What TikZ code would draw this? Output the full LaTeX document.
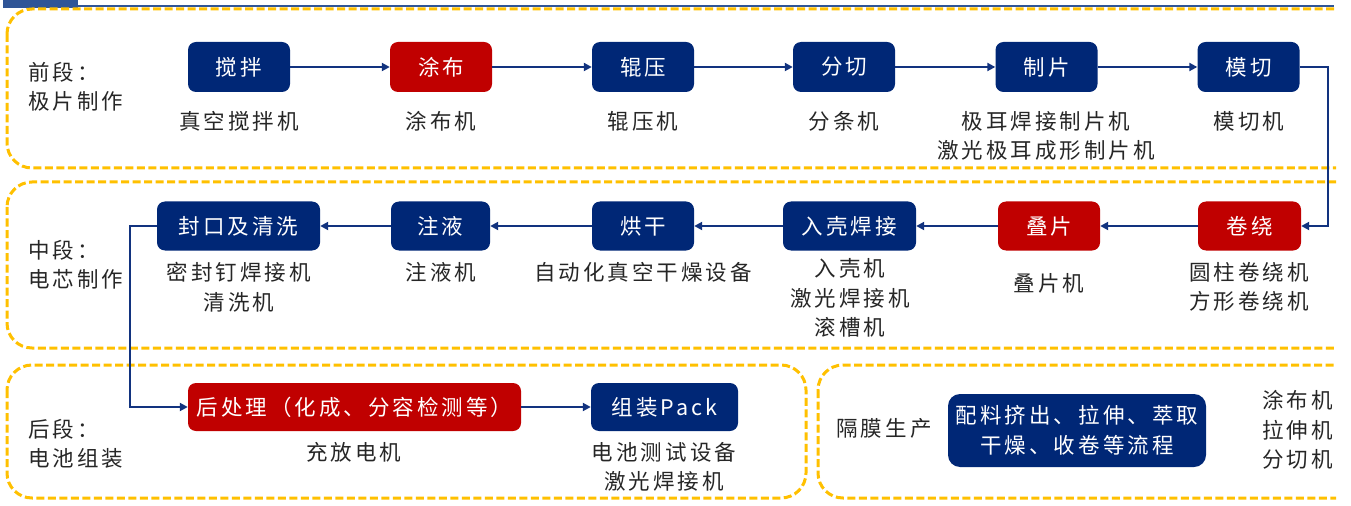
\documentclass[tikz,border=0pt]{standalone}
\usepackage{fontspec}
\setmainfont{Noto Sans CJK SC}[LetterSpace=14]
\usetikzlibrary{arrows.meta}
\definecolor{nblue}{HTML}{002776}
\definecolor{nred}{HTML}{C00000}
\definecolor{dorange}{HTML}{FFC000}
\definecolor{lblue}{HTML}{12337F}
\definecolor{hblue}{HTML}{2F5597}
\definecolor{txt}{HTML}{262626}
\tikzset{
  panel/.style={draw=dorange, line width=3bp, dash pattern=on 8bp off 3.5bp, rounded corners=25bp},
  bbox/.style={fill=nblue, text=white, rounded corners=8bp, minimum height=50bp, minimum width=102bp, inner sep=0pt},
  rbox/.style={bbox, fill=nred},
  lab/.style={text=txt, align=center, inner sep=0pt},
  sect/.style={text=txt, align=left, anchor=west, inner sep=0pt},
  arr/.style={draw=lblue, line width=2.8bp, -{Triangle[length=8bp,width=8bp]}},
}
\begin{document}
\begin{tikzpicture}[x=1bp, y=-1bp, font=\fontsize{21.5bp}{29.5bp}\selectfont]
\useasboundingbox (0,0) rectangle (1351,506);
% header
\fill[hblue] (3,0) rectangle (78,8);
\draw[hblue, line width=2bp] (78,6) -- (1334,6);
% panels
\begin{scope}
\clip (0,0) rectangle (1336,506);
\draw[panel] (7,9) rectangle (1420,168);
\draw[panel] (7,182) rectangle (1420,348);
\draw[panel] (7,365) rectangle (806,498);
\draw[panel] (818,365) rectangle (1420,498);
\end{scope}
% section labels
\node[sect] (s1) at (28,87) {前段：\\极片制作};
\node[sect] (s2) at (28,265) {中段：\\电芯制作};
\node[sect] (s3) at (28,444) {后段：\\电池组装};
\node[lab] (s4) at (884,428) {隔膜生产};
% row 1
\node[bbox] (jb) at (239,67) {搅拌};
\node[rbox] (tb) at (441,67) {涂布};
\node[bbox] (gy) at (643,67) {辊压};
\node[bbox] (fq) at (844,67) {分切};
\node[bbox] (zp) at (1046.5,67) {制片};
\node[bbox] (mq) at (1248.5,67) {模切};
\node[lab] at (239,121) {真空搅拌机};
\node[lab] at (441,121) {涂布机};
\node[lab] at (643,121) {辊压机};
\node[lab] at (844,121) {分条机};
\node[lab] at (1046,136) {极耳焊接制片机\\激光极耳成形制片机};
\node[lab] at (1249,121) {模切机};
% row 2
\node[rbox, minimum width=103bp, minimum height=49bp] (jr) at (1249.5,226) {卷绕};
\node[rbox, minimum height=49bp] (dp) at (1049,226) {叠片};
\node[bbox, minimum width=133bp, minimum height=49bp] (rk) at (849.5,226) {入壳焊接};
\node[bbox, minimum height=49bp] (hg) at (643,226) {烘干};
\node[bbox, minimum width=99bp, minimum height=49bp] (zy) at (440.5,226) {注液};
\node[bbox, minimum width=163bp, minimum height=49bp] (fk) at (238.5,226) {封口及清洗};
\node[lab] at (1249,287) {圆柱卷绕机\\方形卷绕机};
\node[lab] at (1049,283) {叠片机};
\node[lab] at (850,298) {入壳机\\激光焊接机\\滚槽机};
\node[lab] at (643,272) {自动化真空干燥设备};
\node[lab] at (441,272) {注液机};
\node[lab] at (239,287) {密封钉焊接机\\清洗机};
% row 3
\node[rbox, minimum width=333bp, minimum height=48bp] (hc) at (354.5,407) {后处理（化成、分容检测等）};
\node[bbox, minimum width=147bp, minimum height=48bp] (zz) at (664.5,407) {组装Pack};
\node[lab] at (354,452) {充放电机};
\node[lab] at (664,467) {电池测试设备\\激光焊接机};
% separator panel
\node[bbox, minimum width=258bp, minimum height=73bp, rounded corners=12bp, align=center] (gm) at (1077,430.5) {配料挤出、拉伸、萃取\\干燥、收卷等流程};
\node[sect] at (1262,430) {涂布机\\拉伸机\\分切机};
% connectors
\draw[arr] (jb) -- (tb);
\draw[arr] (tb) -- (gy);
\draw[arr] (gy) -- (fq);
\draw[arr] (fq) -- (zp);
\draw[arr] (zp) -- (mq);
\coordinate (c1) at (1328,67);
\draw[arr] (mq.east) -- (c1) |- (jr.east);
\draw[arr] (jr) -- (dp);
\draw[arr] (dp) -- (rk);
\draw[arr] (rk) -- (hg);
\draw[arr] (hg) -- (zy);
\draw[arr] (zy) -- (fk);
\coordinate (c2) at (130,226);
\draw[arr] (fk.west) -- (c2) |- (hc.west);
\draw[arr] (hc) -- (zz);
\end{tikzpicture}
\end{document}
